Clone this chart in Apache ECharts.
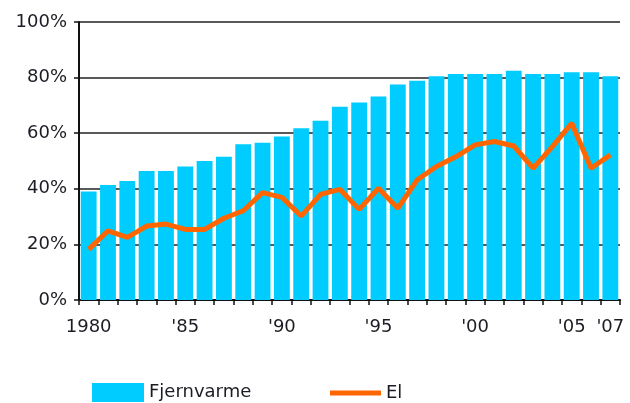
<!DOCTYPE html>
<html>
<head>
<meta charset="utf-8">
<script src="https://cdn.jsdelivr.net/npm/echarts@6/dist/echarts.min.js"></script>
<style>
  html, body { margin: 0; padding: 0; background: #fff; }
  #chart { width: 630px; height: 403px; }
</style>
</head>
<body>
<div id="chart"></div>
<script>
const years = [1980, 1981, 1982, 1983, 1984, 1985, 1986, 1987, 1988, 1989,
  1990, 1991, 1992, 1993, 1994, 1995, 1996, 1997, 1998, 1999,
  2000, 2001, 2002, 2003, 2004, 2005, 2006, 2007];

// Fjernvarme share (%)
const fjernvarme = [39, 41.4, 42.8, 46.4, 46.4, 48, 50, 51.5, 56, 56.6,
  58.8, 61.8, 64.5, 69.5, 71, 73.2, 77.5, 78.9, 80.5, 81.3,
  81.3, 81.3, 82.5, 81.3, 81.3, 81.9, 81.9, 80.5];

// El share (%)
const el = [18.2, 24.9, 22.5, 26.6, 27.3, 25.4, 25.4, 29.4, 32.1, 38.6,
  36.9, 30.2, 38, 39.8, 32.6, 40.2, 33, 43.2, 48, 51.5,
  55.8, 57, 55.4, 47.4, 55.2, 63.6, 47.4, 52.2];

const shownYears = { 1980: '1980', 1985: "'85", 1990: "'90", 1995: "'95", 2000: "'00", 2005: "'05", 2007: "'07" };

const chart = echarts.init(document.getElementById('chart'));
const font = 'DejaVu Sans';
const textColor = '#1c1c24';

chart.setOption({
  animation: false,
  backgroundColor: '#fff',
  textStyle: { fontFamily: font },
  grid: { left: 79, right: 10, top: 22, bottom: 103 },
  legend: [
    {
      data: ['Fjernvarme'],
      left: 92,
      top: 383,
      padding: 0,
      icon: 'rect',
      itemWidth: 52,
      itemHeight: 19,
      textStyle: { fontFamily: font, fontSize: 18, color: textColor }
    },
    {
      data: ['El'],
      left: 330,
      top: 384,
      padding: 0,
      icon: 'rect',
      itemWidth: 51,
      itemHeight: 5,
      textStyle: { fontFamily: font, fontSize: 18, color: textColor }
    }
  ],
  xAxis: {
    type: 'category',
    data: years,
    axisLine: { lineStyle: { color: '#111', width: 2 } },
    axisTick: { show: true, interval: 0, length: 5, lineStyle: { color: '#111', width: 1.5 } },
    axisLabel: {
      interval: (i, v) => shownYears[v] !== undefined,
      formatter: v => shownYears[v] || '',
      margin: 18,
      fontFamily: font,
      fontSize: 18,
      color: textColor
    }
  },
  yAxis: {
    type: 'value',
    min: 0,
    max: 100,
    interval: 20,
    axisLine: { show: true, lineStyle: { color: '#111', width: 2 } },
    axisTick: { show: true, length: 5, lineStyle: { color: '#111', width: 1.5 } },
    axisLabel: {
      formatter: '{value}%',
      margin: 12,
      fontFamily: font,
      fontSize: 18,
      color: textColor
    },
    splitLine: { show: true, lineStyle: { color: '#222', width: 1.5 } }
  },
  series: [
    {
      name: 'Fjernvarme',
      type: 'bar',
      data: fjernvarme,
      barCategoryGap: '18%',
      itemStyle: { color: '#00ccff' }
    },
    {
      name: 'El',
      type: 'line',
      data: el,
      showSymbol: false,
      symbol: 'none',
      lineStyle: { color: '#ff6600', width: 5 },
      itemStyle: { color: '#ff6600' }
    }
  ]
});
</script>
</body>
</html>
